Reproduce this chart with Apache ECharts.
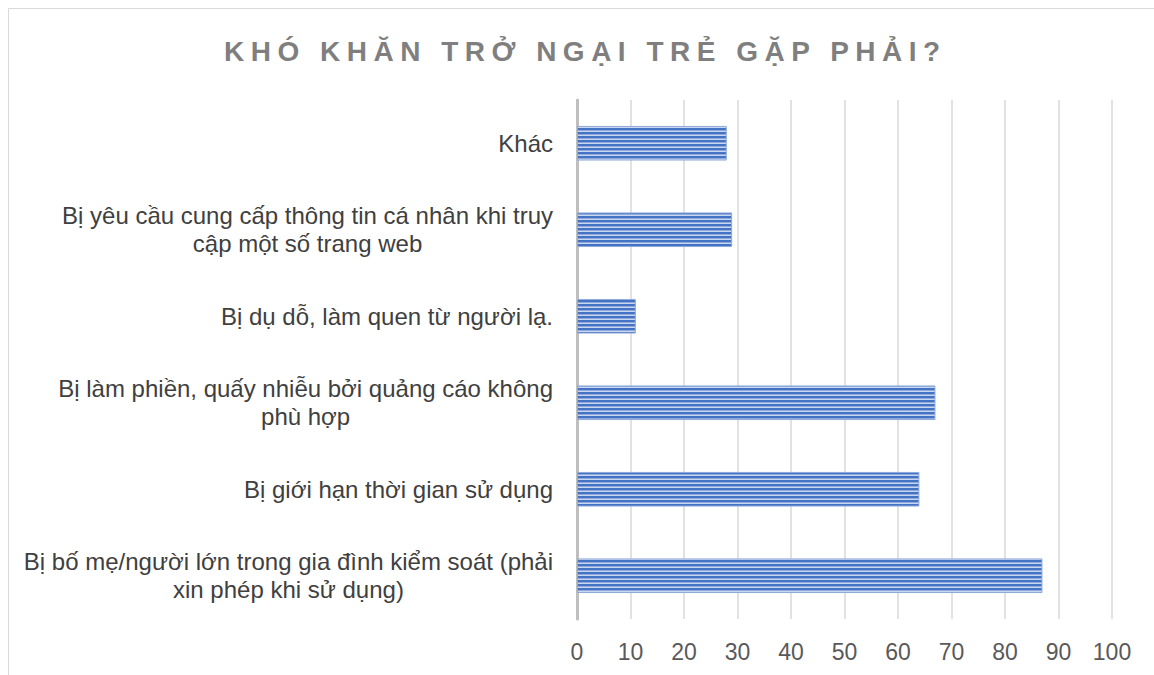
<!DOCTYPE html>
<html>
<head>
<meta charset="utf-8">
<script src="https://cdn.jsdelivr.net/npm/echarts@6/dist/echarts.min.js"></script>
<style>
  html, body { margin: 0; padding: 0; background: #fff; }
  #chart { width: 1154px; height: 675px; }
</style>
</head>
<body>
<div id="chart"></div>
<script>
const titleText = 'KHÓ KHĂN TRỞ NGẠI TRẺ GẶP PHẢI?'
// bottom to top, as drawn on the category axis
const categories = [
    'Bị bố mẹ/người lớn trong gia đình kiểm soát (phải\nxin phép khi sử dụng)',
    'Bị giới hạn thời gian sử dụng',
    'Bị làm phiền, quấy nhiễu bởi quảng cáo không\nphù hợp',
    'Bị dụ dỗ, làm quen từ người lạ.',
    'Bị yêu cầu cung cấp thông tin cá nhân khi truy\ncập một số trang web',
    'Khác'
]
const values = [87, 64, 67, 11, 29, 28]
const xTicks = [0, 100, 10]  // min, max, interval

function stripePattern() {
    const c = document.createElement('canvas')
    c.width = 4
    c.height = 4
    const ctx = c.getContext('2d')
    ctx.fillStyle = '#4472c4'
    ctx.fillRect(0, 0, 4, 2)
    ctx.fillStyle = '#8eaadb'
    ctx.fillRect(0, 2, 4, 1)
    ctx.fillStyle = '#c9d6ef'
    ctx.fillRect(0, 3, 4, 1)
    return { image: c, repeat: 'repeat' }
}

const font = "'Liberation Sans', Arial, sans-serif"
const chart = echarts.init(document.getElementById('chart'), null, { renderer: 'svg' })

chart.setOption({
    animation: false,
    title: {
        text: titleText,
        left: 219,
        top: 32,
        textStyle: {
            fontFamily: font,
            fontSize: 28,
            fontWeight: 'bold',
            color: '#7f7f7f'
        }
    },
    graphic: [{
        type: 'rect',
        shape: { x: 8.5, y: 8.5, width: 1200, height: 700 },
        style: { fill: 'none', stroke: '#d9d9d9', lineWidth: 1 },
        silent: true
    }],
    grid: {
        left: 577,
        right: 42,
        top: 100,
        bottom: 56
    },
    xAxis: {
        type: 'value',
        min: xTicks[0],
        max: xTicks[1],
        interval: xTicks[2],
        axisLine: { show: false },
        axisTick: { show: false },
        splitLine: { lineStyle: { color: '#d9d9d9', width: 1.5 } },
        axisLabel: {
            margin: 21,
            fontFamily: font,
            fontSize: 23,
            color: '#595959'
        }
    },
    yAxis: {
        type: 'category',
        data: categories,
        axisLine: { lineStyle: { color: '#bfbfbf', width: 3 } },
        axisTick: { show: false },
        axisLabel: {
            margin: 24,
            fontFamily: font,
            fontSize: 24,
            color: '#404040',
            lineHeight: 28,
            formatter: function (v) {
                return v.split('\n').map(l => '{c|' + l + '}').join('\n')
            },
            rich: {
                c: {
                    align: 'center',
                    fontFamily: font,
                    fontSize: 24,
                    color: '#404040',
                    lineHeight: 28
                }
            }
        }
    },
    series: [{
        type: 'bar',
        data: values,
        barCategoryGap: '60%',
        itemStyle: {
            color: stripePattern(),
            borderColor: '#8eaadb',
            borderWidth: 1
        }
    }]
})

function spaceTitle() {
    document.querySelectorAll('#chart svg text').forEach(t => {
        if (t.textContent === titleText) {
            t.setAttribute('letter-spacing', '6.5')
        }
    })
}
chart.on('finished', spaceTitle)
spaceTitle()
</script>
</body>
</html>
